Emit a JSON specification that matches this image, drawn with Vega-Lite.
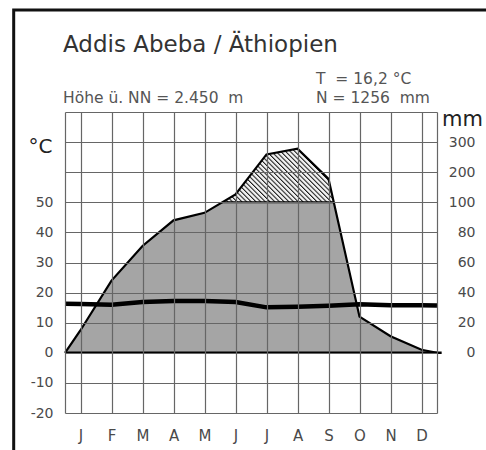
{
 "$schema": "https://vega.github.io/schema/vega-lite/v6.json",
 "width": 372,
 "height": 301,
 "autosize": {"type": "none"},
 "padding": {"left": 65, "top": 112, "right": 49, "bottom": 37},
 "background": "white",
 "config": {"view": {"stroke": null}, "font": "DejaVu Sans"},
 "datasets": {
  "prec": [
   {"m": 0.5, "p": 0}, {"m": 1, "p": 15}, {"m": 2, "p": 48}, {"m": 3, "p": 71},
   {"m": 4, "p": 88}, {"m": 5, "p": 93}, {"m": 6, "p": 126}, {"m": 7, "p": 259},
   {"m": 8, "p": 278}, {"m": 9, "p": 178}, {"m": 10, "p": 24}, {"m": 11, "p": 11},
   {"m": 12, "p": 2}, {"m": 12.5, "p": 0}
  ],
  "temp": [
   {"m": 0.5, "t": 16.3}, {"m": 1, "t": 16.2}, {"m": 2, "t": 16.0}, {"m": 3, "t": 16.9},
   {"m": 4, "t": 17.2}, {"m": 5, "t": 17.2}, {"m": 6, "t": 16.9}, {"m": 7, "t": 15.1},
   {"m": 8, "t": 15.3}, {"m": 9, "t": 15.6}, {"m": 10, "t": 16.1}, {"m": 11, "t": 15.8},
   {"m": 12, "t": 15.8}, {"m": 12.5, "t": 15.7}
  ]
 },
 "layer": [
  {
   "data": {"name": "prec"},
   "mark": {"type": "area", "fill": "#a5a5a5"},
   "encoding": {
    "x": {"field": "m", "type": "quantitative", "scale": {"domain": [0.5, 12.5], "nice": false, "zero": false}},
    "y": {"datum": 100, "type": "quantitative", "scale": {"domain": [-40, 100, 400], "range": [301, 90.3, 0], "nice": false, "zero": false}, "axis": null},
    "y2": {"datum": 0}
   }
  },
  {
   "data": {"name": "prec"},
   "transform": [{"filter": "datum.m >= 5 && datum.m <= 10"}],
   "mark": {"type": "area", "fill": {"gradient": "linear", "x1": 0, "y1": 1, "x2": 1.3174, "y2": 0.4883, "stops": [
    {"offset":0,"color":"#1a1a1a"},{"offset":0.008,"color":"#f0f0f0"},{"offset":0.016,"color":"#f0f0f0"},
    {"offset":0.02,"color":"#1a1a1a"},{"offset":0.028,"color":"#f0f0f0"},{"offset":0.036,"color":"#f0f0f0"},
    {"offset":0.04,"color":"#1a1a1a"},{"offset":0.048,"color":"#f0f0f0"},{"offset":0.056,"color":"#f0f0f0"},
    {"offset":0.06,"color":"#1a1a1a"},{"offset":0.068,"color":"#f0f0f0"},{"offset":0.076,"color":"#f0f0f0"},
    {"offset":0.08,"color":"#1a1a1a"},{"offset":0.088,"color":"#f0f0f0"},{"offset":0.096,"color":"#f0f0f0"},
    {"offset":0.1,"color":"#1a1a1a"},{"offset":0.108,"color":"#f0f0f0"},{"offset":0.116,"color":"#f0f0f0"},
    {"offset":0.12,"color":"#1a1a1a"},{"offset":0.128,"color":"#f0f0f0"},{"offset":0.136,"color":"#f0f0f0"},
    {"offset":0.14,"color":"#1a1a1a"},{"offset":0.148,"color":"#f0f0f0"},{"offset":0.156,"color":"#f0f0f0"},
    {"offset":0.16,"color":"#1a1a1a"},{"offset":0.168,"color":"#f0f0f0"},{"offset":0.176,"color":"#f0f0f0"},
    {"offset":0.18,"color":"#1a1a1a"},{"offset":0.188,"color":"#f0f0f0"},{"offset":0.196,"color":"#f0f0f0"},
    {"offset":0.2,"color":"#1a1a1a"},{"offset":0.208,"color":"#f0f0f0"},{"offset":0.216,"color":"#f0f0f0"},
    {"offset":0.22,"color":"#1a1a1a"},{"offset":0.228,"color":"#f0f0f0"},{"offset":0.236,"color":"#f0f0f0"},
    {"offset":0.24,"color":"#1a1a1a"},{"offset":0.248,"color":"#f0f0f0"},{"offset":0.256,"color":"#f0f0f0"},
    {"offset":0.26,"color":"#1a1a1a"},{"offset":0.268,"color":"#f0f0f0"},{"offset":0.276,"color":"#f0f0f0"},
    {"offset":0.28,"color":"#1a1a1a"},{"offset":0.288,"color":"#f0f0f0"},{"offset":0.296,"color":"#f0f0f0"},
    {"offset":0.3,"color":"#1a1a1a"},{"offset":0.308,"color":"#f0f0f0"},{"offset":0.316,"color":"#f0f0f0"},
    {"offset":0.32,"color":"#1a1a1a"},{"offset":0.328,"color":"#f0f0f0"},{"offset":0.336,"color":"#f0f0f0"},
    {"offset":0.34,"color":"#1a1a1a"},{"offset":0.348,"color":"#f0f0f0"},{"offset":0.356,"color":"#f0f0f0"},
    {"offset":0.36,"color":"#1a1a1a"},{"offset":0.368,"color":"#f0f0f0"},{"offset":0.376,"color":"#f0f0f0"},
    {"offset":0.38,"color":"#1a1a1a"},{"offset":0.388,"color":"#f0f0f0"},{"offset":0.396,"color":"#f0f0f0"},
    {"offset":0.4,"color":"#1a1a1a"},{"offset":0.408,"color":"#f0f0f0"},{"offset":0.416,"color":"#f0f0f0"},
    {"offset":0.42,"color":"#1a1a1a"},{"offset":0.428,"color":"#f0f0f0"},{"offset":0.436,"color":"#f0f0f0"},
    {"offset":0.44,"color":"#1a1a1a"},{"offset":0.448,"color":"#f0f0f0"},{"offset":0.456,"color":"#f0f0f0"},
    {"offset":0.46,"color":"#1a1a1a"},{"offset":0.468,"color":"#f0f0f0"},{"offset":0.476,"color":"#f0f0f0"},
    {"offset":0.48,"color":"#1a1a1a"},{"offset":0.488,"color":"#f0f0f0"},{"offset":0.496,"color":"#f0f0f0"},
    {"offset":0.5,"color":"#1a1a1a"},{"offset":0.508,"color":"#f0f0f0"},{"offset":0.516,"color":"#f0f0f0"},
    {"offset":0.52,"color":"#1a1a1a"},{"offset":0.528,"color":"#f0f0f0"},{"offset":0.536,"color":"#f0f0f0"},
    {"offset":0.54,"color":"#1a1a1a"},{"offset":0.548,"color":"#f0f0f0"},{"offset":0.556,"color":"#f0f0f0"},
    {"offset":0.56,"color":"#1a1a1a"},{"offset":0.568,"color":"#f0f0f0"},{"offset":0.576,"color":"#f0f0f0"},
    {"offset":0.58,"color":"#1a1a1a"},{"offset":0.588,"color":"#f0f0f0"},{"offset":0.596,"color":"#f0f0f0"},
    {"offset":0.6,"color":"#1a1a1a"},{"offset":0.608,"color":"#f0f0f0"},{"offset":0.616,"color":"#f0f0f0"},
    {"offset":0.62,"color":"#1a1a1a"},{"offset":0.628,"color":"#f0f0f0"},{"offset":0.636,"color":"#f0f0f0"},
    {"offset":0.64,"color":"#1a1a1a"},{"offset":0.648,"color":"#f0f0f0"},{"offset":0.656,"color":"#f0f0f0"},
    {"offset":0.66,"color":"#1a1a1a"},{"offset":0.668,"color":"#f0f0f0"},{"offset":0.676,"color":"#f0f0f0"},
    {"offset":0.68,"color":"#1a1a1a"},{"offset":0.688,"color":"#f0f0f0"},{"offset":0.696,"color":"#f0f0f0"},
    {"offset":0.7,"color":"#1a1a1a"},{"offset":0.708,"color":"#f0f0f0"},{"offset":0.716,"color":"#f0f0f0"},
    {"offset":0.72,"color":"#1a1a1a"},{"offset":0.728,"color":"#f0f0f0"},{"offset":0.736,"color":"#f0f0f0"},
    {"offset":0.74,"color":"#1a1a1a"},{"offset":0.748,"color":"#f0f0f0"},{"offset":0.756,"color":"#f0f0f0"},
    {"offset":0.76,"color":"#1a1a1a"},{"offset":0.768,"color":"#f0f0f0"},{"offset":0.776,"color":"#f0f0f0"},
    {"offset":0.78,"color":"#1a1a1a"},{"offset":0.788,"color":"#f0f0f0"},{"offset":0.796,"color":"#f0f0f0"},
    {"offset":0.8,"color":"#1a1a1a"},{"offset":0.808,"color":"#f0f0f0"},{"offset":0.816,"color":"#f0f0f0"},
    {"offset":0.82,"color":"#1a1a1a"},{"offset":0.828,"color":"#f0f0f0"},{"offset":0.836,"color":"#f0f0f0"},
    {"offset":0.84,"color":"#1a1a1a"},{"offset":0.848,"color":"#f0f0f0"},{"offset":0.856,"color":"#f0f0f0"},
    {"offset":0.86,"color":"#1a1a1a"},{"offset":0.868,"color":"#f0f0f0"},{"offset":0.876,"color":"#f0f0f0"},
    {"offset":0.88,"color":"#1a1a1a"},{"offset":0.888,"color":"#f0f0f0"},{"offset":0.896,"color":"#f0f0f0"},
    {"offset":0.9,"color":"#1a1a1a"},{"offset":0.908,"color":"#f0f0f0"},{"offset":0.916,"color":"#f0f0f0"},
    {"offset":0.92,"color":"#1a1a1a"},{"offset":0.928,"color":"#f0f0f0"},{"offset":0.936,"color":"#f0f0f0"},
    {"offset":0.94,"color":"#1a1a1a"},{"offset":0.948,"color":"#f0f0f0"},{"offset":1,"color":"#f0f0f0"}
   ]}},
   "encoding": {
    "x": {"field": "m", "type": "quantitative", "scale": {"domain": [0.5, 12.5], "nice": false, "zero": false}},
    "y": {"datum": 300, "type": "quantitative", "scale": {"domain": [-40, 100, 400], "range": [301, 90.3, 0], "nice": false, "zero": false}, "axis": null},
    "y2": {"datum": 100}
   }
  },
  {
   "data": {"values": [{}]},
   "mark": {"type": "rule", "color": "#000", "strokeWidth": 2},
   "encoding": {
    "x": {"datum": 0.5, "type": "quantitative", "scale": {"domain": [0.5, 12.5], "nice": false, "zero": false}},
    "x2": {"datum": 12.5},
    "y": {"datum": 100, "type": "quantitative", "scale": {"domain": [-40, 100, 400], "range": [301, 90.3, 0], "nice": false, "zero": false}, "axis": null}
   }
  },
  {
   "data": {"name": "prec"},
   "mark": {"type": "area", "fill": "#ffffff"},
   "encoding": {
    "x": {"field": "m", "type": "quantitative", "scale": {"domain": [0.5, 12.5], "nice": false, "zero": false}},
    "y": {"field": "p", "type": "quantitative", "scale": {"domain": [-40, 100, 400], "range": [301, 90.3, 0], "nice": false, "zero": false}, "axis": null},
    "y2": {"datum": 400}
   }
  },
  {
   "data": {"name": "prec"},
   "mark": {"type": "line", "color": "#000", "strokeWidth": 2.2},
   "encoding": {
    "x": {"field": "m", "type": "quantitative", "scale": {"domain": [0.5, 12.5], "nice": false, "zero": false}},
    "y": {"field": "p", "type": "quantitative", "scale": {"domain": [-40, 100, 400], "range": [301, 90.3, 0], "nice": false, "zero": false},
     "axis": {"orient": "right", "values": [0, 20, 40, 60, 80, 100, 200, 300], "tickCount": 40, "grid": false, "ticks": false, "tickSize": 0, "domain": false,
      "labelAlign": "right", "labelPadding": 38, "labelFont": "DejaVu Sans", "labelFontSize": 14, "labelColor": "#4a4a4a", "labelOverlap": false,
      "title": "mm", "titleAngle": 0, "titleAlign": "center", "titleBaseline": "alphabetic", "titleX": 25, "titleY": 13,
      "titleFont": "DejaVu Sans", "titleFontSize": 21, "titleFontWeight": "normal", "titleColor": "#222"}}
   }
  },
  {
   "data": {"values": [{}]},
   "mark": {"type": "rect", "fillOpacity": 0, "stroke": "#111", "strokeWidth": 3},
   "encoding": {
    "x": {"datum": -1.155, "type": "quantitative", "scale": {"domain": [0.5, 12.5], "nice": false, "zero": false}},
    "x2": {"datum": 14.5},
    "y": {"datum": 113.9, "type": "quantitative", "scale": {"domain": [-20, 80], "nice": false, "zero": false}, "axis": null},
    "y2": {"datum": -35}
   }
  },
  {
   "data": {"values": [{}]},
   "mark": {"type": "rule", "color": "#000", "strokeWidth": 2.6},
   "encoding": {
    "x": {"datum": 0.5, "type": "quantitative", "scale": {"domain": [0.5, 12.5], "nice": false, "zero": false}},
    "x2": {"datum": 12.65},
    "y": {"datum": 0, "type": "quantitative", "scale": {"domain": [-20, 80], "nice": false, "zero": false}, "axis": null}
   }
  },
  {
   "data": {"name": "temp"},
   "mark": {"type": "line", "color": "#000", "strokeWidth": 4.5},
   "encoding": {
    "x": {"field": "m", "type": "quantitative", "scale": {"domain": [0.5, 12.5], "nice": false, "zero": false},
     "axis": {"orient": "bottom", "values": [0.5, 1, 2, 3, 4, 5, 6, 7, 8, 9, 10, 11, 12, 12.5], "tickCount": 40, "grid": true, "gridColor": "#666", "gridWidth": 1.2,
      "ticks": false, "tickSize": 0, "domain": false, "labelOverlap": false, "labelFlush": false, "labelPadding": 15,
      "labelExpr": "datum.value % 1 ? '' : ['', 'J', 'F', 'M', 'A', 'M', 'J', 'J', 'A', 'S', 'O', 'N', 'D'][datum.value]",
      "labelFont": "DejaVu Sans", "labelFontSize": 15, "labelColor": "#4a4a4a", "title": null, "zindex": 1}},
    "y": {"field": "t", "type": "quantitative", "scale": {"domain": [-20, 80], "nice": false, "zero": false},
     "axis": {"orient": "left", "values": [-20, -10, 0, 10, 20, 30, 40, 50, 60, 70, 80], "tickCount": 40, "grid": true, "gridColor": "#666", "gridWidth": 1.2,
      "ticks": false, "tickSize": 0, "domain": false, "labelOverlap": false, "labelPadding": 12,
      "labelExpr": "datum.value > 50 ? '' : '' + datum.value",
      "labelFont": "DejaVu Sans", "labelFontSize": 14, "labelColor": "#4a4a4a",
      "title": "°C", "titleAngle": 0, "titleAlign": "center", "titleBaseline": "alphabetic", "titleX": -25, "titleY": 40,
      "titleFont": "DejaVu Sans", "titleFontSize": 20, "titleFontWeight": "normal", "titleColor": "#222", "zindex": 1}}
   }
  },
  {
   "data": {"values": [{}]},
   "mark": {"type": "text", "align": "left", "baseline": "alphabetic", "font": "DejaVu Sans", "fontSize": 23, "color": "#333"},
   "encoding": {
    "x": {"datum": 0.4355, "type": "quantitative", "scale": {"domain": [0.5, 12.5], "nice": false, "zero": false}},
    "y": {"datum": 99.93, "type": "quantitative", "scale": {"domain": [-20, 80], "nice": false, "zero": false}, "axis": null},
    "text": {"value": "Addis Abeba / Äthiopien"}
   }
  },
  {
   "data": {"values": [{}]},
   "mark": {"type": "text", "align": "left", "baseline": "alphabetic", "font": "DejaVu Sans", "fontSize": 15.5, "color": "#555"},
   "encoding": {
    "x": {"datum": 0.4355, "type": "quantitative", "scale": {"domain": [0.5, 12.5], "nice": false, "zero": false}},
    "y": {"datum": 83.0, "type": "quantitative", "scale": {"domain": [-20, 80], "nice": false, "zero": false}, "axis": null},
    "text": {"value": "Höhe ü. NN = 2.450\u00a0 m"}
   }
  },
  {
   "data": {"values": [{}]},
   "mark": {"type": "text", "align": "left", "baseline": "alphabetic", "font": "DejaVu Sans", "fontSize": 15.5, "color": "#555"},
   "encoding": {
    "x": {"datum": 8.597, "type": "quantitative", "scale": {"domain": [0.5, 12.5], "nice": false, "zero": false}},
    "y": {"datum": 89.14, "type": "quantitative", "scale": {"domain": [-20, 80], "nice": false, "zero": false}, "axis": null},
    "text": {"value": "T\u00a0 = 16,2 °C"}
   }
  },
  {
   "data": {"values": [{}]},
   "mark": {"type": "text", "align": "left", "baseline": "alphabetic", "font": "DejaVu Sans", "fontSize": 15.5, "color": "#555"},
   "encoding": {
    "x": {"datum": 8.597, "type": "quantitative", "scale": {"domain": [0.5, 12.5], "nice": false, "zero": false}},
    "y": {"datum": 83.0, "type": "quantitative", "scale": {"domain": [-20, 80], "nice": false, "zero": false}, "axis": null},
    "text": {"value": "N = 1256\u00a0 mm"}
   }
  }
 ],
 "resolve": {"scale": {"y": "independent"}, "axis": {"y": "independent"}}
}
